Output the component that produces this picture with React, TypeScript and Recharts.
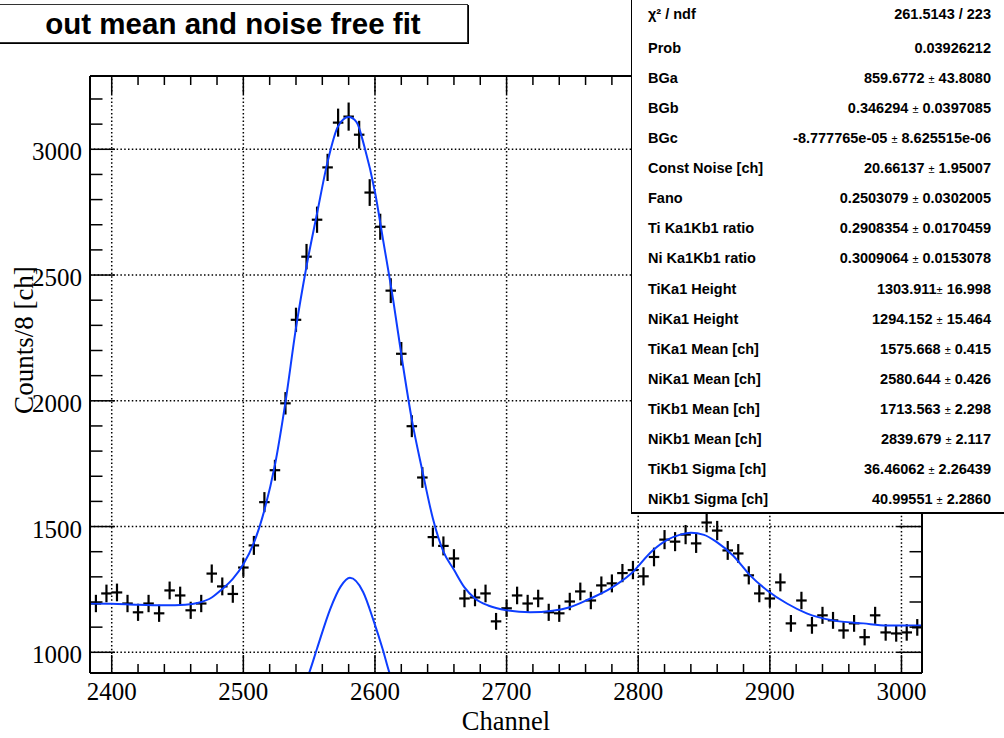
import React from "react";
import { ComposedChart, Line, Scatter, ErrorBar, XAxis, YAxis, ReferenceLine } from "recharts";

const W = 1004;
const H = 738;
const PLOT = { left: 90, right: 922, top: 76, bottom: 673 };
const SERIF = '"Liberation Serif", "Times New Roman", serif';
const SANS = '"Liberation Sans", Arial, Helvetica, sans-serif';
const BLUE = "#0d3dff";

// histogram bins (centre channel) and counts, 8 channels per bin
const CHANNELS = [
  2388, 2396, 2404, 2412, 2420, 2428, 2436, 2444, 2452, 2460, 2468, 2476, 2484, 2492, 2500, 2508,
  2516, 2524, 2532, 2540, 2548, 2556, 2564, 2572, 2580, 2588, 2596, 2604, 2612, 2620, 2628, 2636,
  2644, 2652, 2660, 2668, 2676, 2684, 2692, 2700, 2708, 2716, 2724, 2732, 2740, 2748, 2756, 2764,
  2772, 2780, 2788, 2796, 2804, 2812, 2820, 2828, 2836, 2844, 2852, 2860, 2868, 2876, 2884, 2892,
  2900, 2908, 2916, 2924, 2932, 2940, 2948, 2956, 2964, 2972, 2980, 2988, 2996, 3004, 3012,
];
const COUNTS = [
  1194, 1234, 1238, 1194, 1159, 1194, 1155, 1246, 1226, 1167, 1194, 1313, 1262, 1232, 1337, 1425,
  1597, 1724, 1990, 2322, 2573, 2720, 2928, 3106, 3130, 3058, 2828, 2692, 2438, 2187, 1899, 1695,
  1458, 1423, 1373, 1214, 1218, 1234, 1123, 1175, 1226, 1194, 1214, 1159, 1155, 1202, 1242, 1206,
  1266, 1274, 1315, 1327, 1302, 1379, 1448, 1440, 1468, 1433, 1516, 1484, 1405, 1393, 1306, 1234,
  1214, 1278, 1115, 1206, 1107, 1147, 1127, 1087, 1115, 1060, 1147, 1079, 1075, 1079, 1099,
];
const BIN_HALF = 4;

// full fit curve
const FIT_CH = [
  2384, 2400, 2420, 2440, 2456, 2466, 2476, 2484, 2492, 2500, 2508, 2516, 2524, 2532, 2540, 2548,
  2556, 2564, 2572, 2580, 2586, 2592, 2600, 2606, 2614, 2621, 2628, 2636, 2644, 2652, 2660, 2668,
  2676, 2686, 2700, 2718, 2735, 2748, 2763, 2779, 2794, 2811, 2822, 2832, 2840, 2850, 2860, 2872,
  2885, 2898, 2913, 2928, 2948, 2971, 2989, 3015,
];
const FIT_VAL = [
  1194, 1193, 1189, 1187, 1189, 1197, 1218, 1252, 1292, 1350, 1435, 1565, 1745, 1995, 2290, 2535,
  2745, 2950, 3092, 3128, 3108, 3010, 2830, 2645, 2395, 2150, 1925, 1722, 1532, 1400, 1328, 1258,
  1214, 1186, 1167, 1159, 1165, 1179, 1212, 1254, 1310, 1405, 1447, 1468, 1475, 1467, 1437, 1385,
  1306, 1246, 1194, 1155, 1127, 1115, 1107, 1107,
];

// NiKa1 component alone (runs out through the bottom of the frame)
const KA1_CH = [2544, 2550, 2556, 2566, 2574, 2581, 2591, 2599, 2606, 2611, 2617];
const KA1_VAL = [840, 918, 1015, 1172, 1262, 1296, 1240, 1125, 1010, 918, 840];

const X_DOMAIN = [2383.5, 3015.6];
const Y_DOMAIN = [917.7, 3291.4];
const X_MAJOR = [2400, 2500, 2600, 2700, 2800, 2900, 3000];
const X_MINOR = [
  2400, 2420, 2440, 2460, 2480, 2500, 2520, 2540, 2560, 2580, 2600, 2620, 2640, 2660, 2680, 2700,
  2720, 2740, 2760, 2780, 2800, 2820, 2840, 2860, 2880, 2900, 2920, 2940, 2960, 2980, 3000,
];
const Y_MAJOR = [1000, 1500, 2000, 2500, 3000];
const Y_MINOR = [
  1000, 1100, 1200, 1300, 1400, 1500, 1600, 1700, 1800, 1900, 2000, 2100, 2200, 2300, 2400, 2500,
  2600, 2700, 2800, 2900, 3000, 3100, 3200,
];

const STAT_LABELS = [
  "χ² / ndf", "Prob", "BGa", "BGb", "BGc", "Const Noise [ch]", "Fano", "Ti Ka1Kb1 ratio",
  "Ni Ka1Kb1 ratio", "TiKa1 Height", "NiKa1 Height", "TiKa1 Mean [ch]", "NiKa1 Mean [ch]",
  "TiKb1 Mean [ch]", "NiKb1 Mean [ch]", "TiKb1 Sigma [ch]", "NiKb1 Sigma [ch]",
];
const STAT_VALUES = [
  "261.5143 / 223", "0.03926212", "859.6772 ± 43.8080", "0.346294 ± 0.0397085",
  "-8.777765e-05 ± 8.625515e-06", "20.66137 ± 1.95007", "0.2503079 ± 0.0302005",
  "0.2908354 ± 0.0170459", "0.3009064 ± 0.0153078", "1303.911± 16.998", "1294.152 ± 15.464",
  "1575.668 ± 0.415", "2580.644 ± 0.426", "1713.563 ± 2.298", "2839.679 ± 2.117",
  "36.46062 ± 2.26439", "40.99551 ± 2.2860",
];

// poisson errors on the counts, half bin width horizontally
const points = CHANNELS.map((c, i) => ({ x: c, y: COUNTS[i], ex: BIN_HALF, ey: Math.sqrt(COUNTS[i]) }));
const fit = FIT_CH.map((c, i) => ({ x: c, y: FIT_VAL[i] }));
const ka1 = KA1_CH.map((c, i) => ({ x: c, y: KA1_VAL[i] }));

const NoMarker = () => <g />;

function XTick(props: any) {
  const { x, y, payload, side } = props;
  const major = X_MAJOR.includes(payload.value);
  const len = major ? 18 : 9;
  const dir = side === "bottom" ? -1 : 1;
  return (
    <g>
      <line x1={x} x2={x} y1={y} y2={y + dir * len} stroke="#000" strokeWidth={1.5} />
      {side === "bottom" && major && (
        <text x={x} y={y + 27} textAnchor="middle" fontFamily={SERIF} fontSize={25} fill="#000">
          {payload.value}
        </text>
      )}
    </g>
  );
}

function YTick(props: any) {
  const { x, y, payload, side } = props;
  const major = Y_MAJOR.includes(payload.value);
  const len = major ? 25 : 12.5;
  const dir = side === "left" ? 1 : -1;
  return (
    <g>
      <line x1={x} x2={x + dir * len} y1={y} y2={y} stroke="#000" strokeWidth={1.5} />
      {side === "left" && major && (
        <text x={x - 8} y={y + 11} textAnchor="end" fontFamily={SERIF} fontSize={25} fill="#000">
          {payload.value}
        </text>
      )}
    </g>
  );
}

function StatValue({ text }: { text: string }) {
  const parts = text.split("±");
  if (parts.length < 2) return <>{text}</>;
  return (
    <>
      {parts[0]}
      <span style={{ fontSize: 11, fontWeight: 400 }}>±</span>
      {parts[1]}
    </>
  );
}

const axisLine = { stroke: "#000", strokeWidth: 2 };
const grid = { stroke: "#000", strokeWidth: 1.5, strokeDasharray: "1.5 2.3" };

export default function App() {
  return (
    <div style={{ position: "absolute", left: 0, top: 0, width: W, height: H, background: "#fff", overflow: "hidden" }}>
      <ComposedChart
        width={W}
        height={H}
        margin={{ top: PLOT.top - 10, right: W - PLOT.right - 10, bottom: H - PLOT.bottom - 40, left: PLOT.left - 70 }}
      >
        <XAxis
          xAxisId="b"
          type="number"
          dataKey="x"
          domain={X_DOMAIN}
          allowDataOverflow
          ticks={X_MINOR}
          interval={0}
          tickSize={0}
          tickMargin={0}
          tickLine={false}
          axisLine={axisLine}
          height={40}
          tick={(p: any) => <XTick {...p} side="bottom" />}
        />
        <XAxis
          xAxisId="t"
          orientation="top"
          type="number"
          dataKey="x"
          domain={X_DOMAIN}
          allowDataOverflow
          ticks={X_MINOR}
          interval={0}
          tickSize={0}
          tickMargin={0}
          tickLine={false}
          axisLine={axisLine}
          height={10}
          tick={(p: any) => <XTick {...p} side="top" />}
        />
        <YAxis
          yAxisId="l"
          type="number"
          domain={Y_DOMAIN}
          allowDataOverflow
          ticks={Y_MINOR}
          interval={0}
          tickSize={0}
          tickMargin={0}
          tickLine={false}
          axisLine={axisLine}
          width={70}
          tick={(p: any) => <YTick {...p} side="left" />}
        />
        <YAxis
          yAxisId="r"
          orientation="right"
          type="number"
          domain={Y_DOMAIN}
          allowDataOverflow
          ticks={Y_MINOR}
          interval={0}
          tickSize={0}
          tickMargin={0}
          tickLine={false}
          axisLine={axisLine}
          width={10}
          tick={(p: any) => <YTick {...p} side="right" />}
        />
        {X_MAJOR.map((v) => (
          <ReferenceLine key={"gx" + v} xAxisId="b" yAxisId="l" x={v} {...grid} />
        ))}
        {Y_MAJOR.map((v) => (
          <ReferenceLine key={"gy" + v} xAxisId="b" yAxisId="l" y={v} {...grid} />
        ))}
        <Scatter xAxisId="b" yAxisId="l" data={points} dataKey="y" shape={NoMarker} isAnimationActive={false}>
          <ErrorBar dataKey="ex" direction="x" width={0} stroke="#000" strokeWidth={2.2} isAnimationActive={false} />
          <ErrorBar dataKey="ey" direction="y" width={0} stroke="#000" strokeWidth={2.2} isAnimationActive={false} />
        </Scatter>
        <Line
          xAxisId="b"
          yAxisId="l"
          data={fit}
          dataKey="y"
          type="monotone"
          stroke={BLUE}
          strokeWidth={2}
          dot={false}
          activeDot={false}
          isAnimationActive={false}
        />
        <Line
          xAxisId="b"
          yAxisId="l"
          data={ka1}
          dataKey="y"
          type="monotone"
          stroke={BLUE}
          strokeWidth={2}
          dot={false}
          activeDot={false}
          isAnimationActive={false}
        />
      </ComposedChart>

      <svg width={W} height={H} style={{ position: "absolute", left: 0, top: 0, pointerEvents: "none" }}>
        <text x={(PLOT.left + PLOT.right) / 2} y={730} textAnchor="middle" fontFamily={SERIF} fontSize={26.5} fill="#000">
          Channel
        </text>
        <text transform="translate(33,340) rotate(-90)" textAnchor="middle" fontFamily={SERIF} fontSize={27} fill="#000">
          Counts/8 [ch]
        </text>
      </svg>

      {/* title pave */}
      <div
        style={{
          position: "absolute",
          left: -2,
          top: 4,
          width: 468,
          height: 37,
          border: "1px solid #333",
          boxShadow: "1px 1px 0 #000",
          background: "#fff",
          fontFamily: SANS,
          fontWeight: 700,
          fontSize: 29.5,
          lineHeight: "38px",
          textAlign: "center",
          color: "#000",
          whiteSpace: "nowrap",
        }}
      >
        out mean and noise free fit
      </div>

      {/* fit statistics box */}
      <div
        style={{
          position: "absolute",
          left: 631,
          top: -1,
          width: 400,
          height: 512,
          border: "1px solid #000",
          borderBottom: "2px solid #000",
          background: "#fff",
          fontFamily: SANS,
          fontWeight: 700,
          fontSize: 14.5,
          color: "#000",
        }}
      >
        {STAT_LABELS.map((lab, i) => {
          const cy = i === 0 ? 14 : 48 + (i - 1) * 30.07;
          return (
            <div key={lab} style={{ position: "absolute", left: 0, top: cy - 9, width: 400, height: 18, lineHeight: "18px" }}>
              <span style={{ position: "absolute", left: 16, whiteSpace: "nowrap" }}>{lab}</span>
              <span style={{ position: "absolute", right: 41, whiteSpace: "nowrap" }}>
                <StatValue text={STAT_VALUES[i]} />
              </span>
            </div>
          );
        })}
      </div>
    </div>
  );
}
